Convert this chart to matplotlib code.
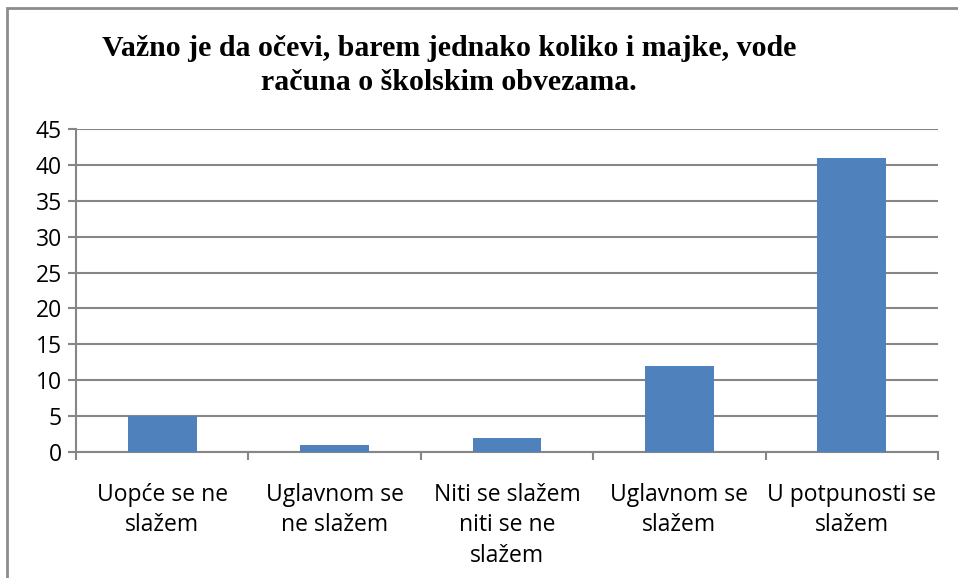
import matplotlib.pyplot as plt
import matplotlib.patches as patches
import numpy as np

# data
categories = ["Uopće se ne\nslažem", "Uglavnom se\nne slažem", "Niti se slažem\nniti se ne\nslažem",
              "Uglavnom se\nslažem", "U potpunosti se\nslažem"]
values = [5, 1, 2, 12, 41]
y_ticks = [0, 5, 10, 15, 20, 25, 30, 35, 40, 45]
title = "Važno je da očevi, barem jednako koliko i majke, vode\nračuna o školskim obvezama."

W, H = 958, 578
fig = plt.figure(figsize=(W / 100, H / 100), dpi=100)
ax = fig.add_axes([76 / W, 1 - 452 / H, (938 - 76) / W, (452 - 129) / H])

grey = "#868686"
x = np.arange(len(categories))
ax.bar(x, values, width=0.4, color="#4F81BD", zorder=3)

ax.set_xlim(-0.5, len(categories) - 0.5)
ax.set_ylim(0, 45)
ax.set_yticks(y_ticks)
ax.set_yticklabels([str(v) for v in y_ticks], fontsize=16.5, family="Open Sans")
ax.yaxis.grid(True, color=grey, linewidth=1.5, zorder=0)

# category labels sit between boundary ticks
ax.set_xticks(np.arange(len(categories) + 1) - 0.5)
ax.set_xticklabels([])
ax.set_xticks(x, minor=True)
ax.set_xticklabels(categories, minor=True, fontsize=16.5, family="Open Sans", linespacing=1.38)
ax.tick_params(axis="x", which="minor", length=0, pad=22)
ax.tick_params(axis="x", which="major", length=6, width=1.5, color=grey)
ax.tick_params(axis="y", length=6, width=1.5, color=grey, pad=4)

for s in ["top", "right"]:
    ax.spines[s].set_visible(False)
for s in ["left", "bottom"]:
    ax.spines[s].set_color(grey)
    ax.spines[s].set_linewidth(1.5)

fig.text(449 / W, 1 - 35 / H, title, ha="center", va="top", fontsize=21.5,
         family="Liberation Serif", fontweight="bold", linespacing=1.32)

# chart frame, cut off at right and bottom
fig.patches.append(patches.Rectangle((7 / W, -0.1), 1.2, 1 - 8 / H + 0.1,
                                     transform=fig.transFigure, fill=False,
                                     edgecolor="#8c8c8c", linewidth=2))

fig.savefig("out.png", dpi=100)
